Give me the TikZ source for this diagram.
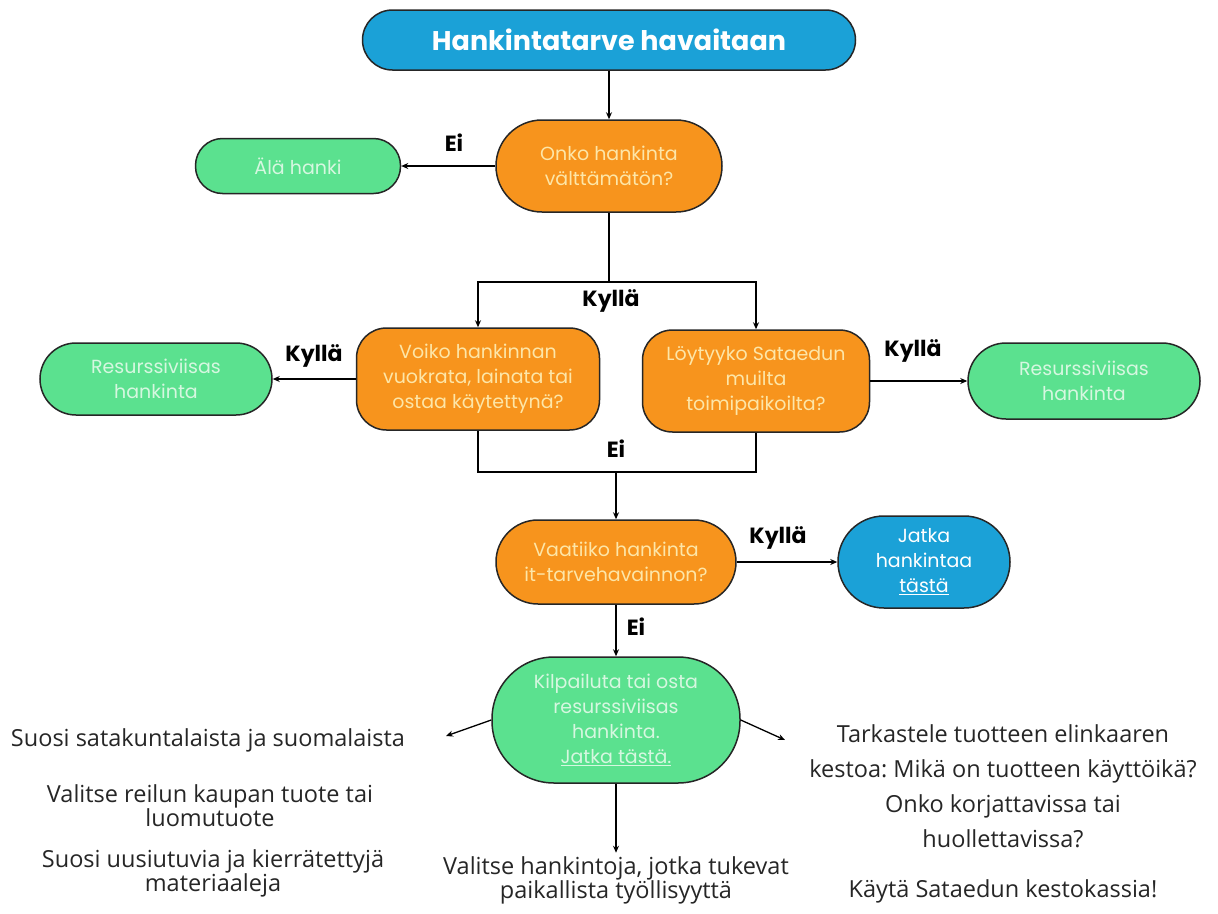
\documentclass[tikz,border=0pt]{standalone}
\usepackage{fontspec}
\setmainfont{Poppins}
\newfontfamily\opensans{Open Sans}
\usetikzlibrary{arrows.meta}
\frenchspacing
\definecolor{hblue}{HTML}{1BA1D7}
\definecolor{horange}{HTML}{F7941D}
\definecolor{hgreen}{HTML}{5BE18F}
\definecolor{hpale}{HTML}{FDE6A8}
\definecolor{hmint}{HTML}{D6F7E0}
\tikzset{
  box/.style={draw=black!85, line width=1.5pt, inner sep=0pt, align=center,
    font=\fontsize{19}{25}\selectfont},
  bluebox/.style={box, fill=hblue, text=white},
  orbox/.style={box, fill=horange, text=hpale},
  grbox/.style={box, fill=hgreen, text=hmint},
  answer/.style={font=\fontsize{22}{26}\selectfont\bfseries},
  tiptext/.style={align=center, text=black!85, font=\opensans\fontsize{23.5}{24}\selectfont},
  arr/.style={-{Stealth[length=7pt,width=6pt]}, line width=1.3pt},
  conn/.style={line width=1.3pt}
}
\begin{document}
\begin{tikzpicture}[x=1pt,y=-1pt]
  %%%%% START %%%%%
  \useasboundingbox[fill=white] (0,0) rectangle (1218,913);

  \node[bluebox, minimum width=493pt, minimum height=60pt, rounded corners=30pt,
    font=\fontsize{27}{30}\selectfont\bfseries] (start) at (609,40) {Hankintatarve havaitaan};

  \node[orbox, minimum width=226pt, minimum height=92pt, rounded corners=46pt] (valttama) at (609,166)
    {Onko hankinta\\välttämätön?};
  \node[grbox, minimum width=205pt, minimum height=55pt, rounded corners=27pt] (alahanki) at (298,166)
    {Älä hanki};

  \node[orbox, minimum width=243pt, minimum height=102pt, rounded corners=30pt] (vuokra) at (478,379)
    {Voiko hankinnan\\vuokrata, lainata tai\\ostaa käytettynä?};
  \node[orbox, minimum width=227pt, minimum height=102pt, rounded corners=30pt] (toimipaikka) at (756,381)
    {Löytyyko Sataedun\\muilta\\toimipaikoilta?};
  \node[grbox, minimum width=232pt, minimum height=72pt, rounded corners=36pt] (resvasen) at (156,379)
    {Resurssiviisas\\hankinta};
  \node[grbox, minimum width=232pt, minimum height=76pt, rounded corners=38pt] (resoikea) at (1084,381)
    {Resurssiviisas\\hankinta};

  \node[orbox, minimum width=240pt, minimum height=84pt, rounded corners=42pt] (ittarve) at (616,562)
    {Vaatiiko hankinta\\it-tarvehavainnon?};
  \node[bluebox, minimum width=172pt, minimum height=92pt, rounded corners=46pt] (jatka) at (924,562)
    {Jatka\\hankintaa\\\underline{tästä}};

  \node[grbox, minimum width=248pt, minimum height=126pt, rounded corners=62pt] (kilpailuta) at (616,720)
    {Kilpailuta tai osta\\resurssiviisas\\hankinta.\\\underline{Jatka tästä.}};

  % vinkit
  \node[tiptext] (suosi) at (208,740) {Suosi satakuntalaista ja suomalaista};
  \node[tiptext] (reilu) at (210,806) {Valitse reilun kaupan tuote tai\\luomutuote};
  \node[tiptext] (uusiutuva) at (213,873) {Suosi uusiutuvia ja kierrätettyjä\\materiaaleja};
  \node[tiptext] (tyollisyys) at (616,880) {Valitse hankintoja, jotka tukevat\\paikallista työllisyyttä};
  \node[tiptext, font=\opensans\fontsize{23.5}{35}\selectfont] (elinkaari) at (1003,786)
    {Tarkastele tuotteen elinkaaren\\kestoa: Mikä on tuotteen käyttöikä?\\Onko korjattavissa tai\\huollettavissa?};
  \node[tiptext] (kestokassi) at (1003,891) {Käytä Sataedun kestokassia!};

  % nuolet
  \coordinate (haara) at (609,282);
  \coordinate (yhdys) at (616,472);
  \coordinate (vasenkarki) at (446,736);
  \coordinate (oikeakarki) at (785,740);

  \draw[arr] (start) -- (valttama);
  \draw[arr] (valttama) -- (alahanki);
  \draw[conn] (valttama.south) -- (haara);
  \draw[arr] (haara) -| (vuokra.north);
  \draw[arr] (haara) -| (toimipaikka.north);
  \draw[arr] (vuokra) -- (resvasen);
  \draw[arr] (toimipaikka) -- (resoikea);
  \draw[conn] (vuokra.south) |- (yhdys) -| (toimipaikka.south);
  \draw[arr] (yhdys) -- (ittarve.north);
  \draw[arr] (ittarve) -- (jatka);
  \draw[arr] (ittarve) -- (kilpailuta);
  \draw[arr] (kilpailuta.west) -- (vasenkarki);
  \draw[arr] (kilpailuta.east) -- (oikeakarki);
  \draw[arr] (kilpailuta) -- (tyollisyys);

  % vastaukset
  \node[answer] (ei1) at (454,143) {Ei};
  \node[answer] (kylla1) at (611,301) {Kyllä};
  \node[answer] (kylla2) at (314,356) {Kyllä};
  \node[answer] (kylla3) at (913,351) {Kyllä};
  \node[answer] (ei2) at (616,449) {Ei};
  \node[answer] (kylla4) at (778,538) {Kyllä};
  \node[answer] (ei3) at (636,627) {Ei};
  %%%%% END %%%%%
\end{tikzpicture}
\end{document}
